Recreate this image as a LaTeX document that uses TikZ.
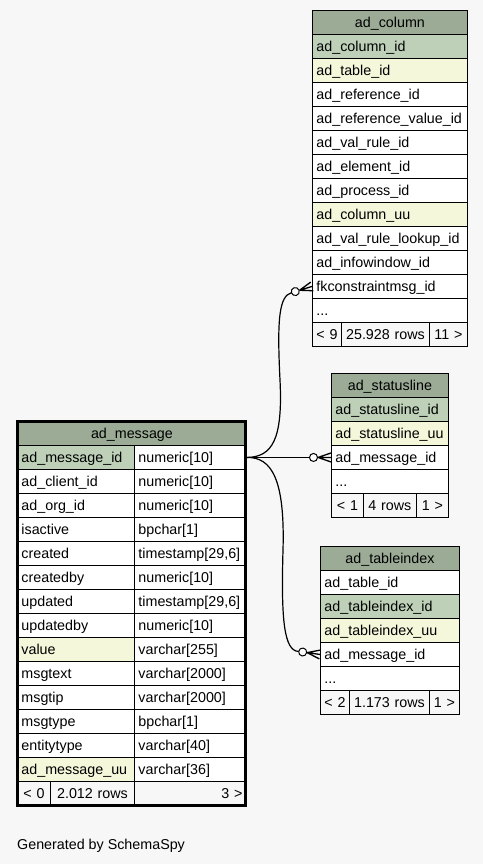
\documentclass[tikz,border=0pt]{standalone}
\usepackage{fontspec}
\setmainfont{Liberation Sans}
\definecolor{hdrgreen}{HTML}{9BAB96}
\definecolor{pkgreen}{HTML}{BED1B8}
\definecolor{idxyellow}{HTML}{F4F7DA}
\definecolor{bggray}{HTML}{F7F7F7}
\newcommand{\tdots}{...}

\begin{document}
\begin{tikzpicture}[x=1bp,y=-1bp,
  font=\fontsize{14.3bp}{16bp}\selectfont,
  cell/.style={draw=black,line width=0.9bp,anchor=north west,minimum height=24bp,
    inner xsep=4bp,inner ysep=0pt,text height=11.7bp,text depth=2.3bp,align=left,text width=#1},
  hdr/.style={cell=#1,fill=hdrgreen,align=center},
  foot/.style={cell=#1,fill=bggray,align=center,inner xsep=1bp},
  link/.style={line width=1.2bp},
  crowodot/.pic={
    \draw[line width=1.3bp] (-13,0) -- (0,-4.5) (-13,0) -- (0,0) (-13,0) -- (0,4.5);
    \draw[line width=1bp,fill=white] (-17.5,0) circle (4bp);
    \coordinate (-tail) at (-21.5,0);
  }]
\path[use as bounding box,fill=bggray] (0,0) rectangle (483,864);

% ad_column
\node[hdr=147bp] (col-h) at (312,10) {ad\_column};
\foreach \t/\f [count=\i] in {ad\_column\_id/pkgreen,ad\_table\_id/idxyellow,
  ad\_reference\_id/white,ad\_reference\_value\_id/white,ad\_val\_rule\_id/white,
  ad\_element\_id/white,ad\_process\_id/white,ad\_column\_uu/idxyellow,
  ad\_val\_rule\_lookup\_id/white,ad\_infowindow\_id/white,fkconstraintmsg\_id/white,\tdots/white}
  \node[cell=147bp,fill=\f] (col-\i) at (312,{34+24*(\i-1)}) {\t};
\node[foot=27bp] (col-f1) at (312,322) {< 9};
\node[foot=86bp] (col-f2) at (341,322) {25.928 rows};
\node[foot=36bp] (col-f3) at (429,322) {11 >};

% ad_statusline
\node[hdr=109bp] (stat-h) at (331,373) {ad\_statusline};
\foreach \t/\f [count=\i] in {ad\_statusline\_id/pkgreen,ad\_statusline\_uu/idxyellow,
  ad\_message\_id/white,\tdots/white}
  \node[cell=109bp,fill=\f] (stat-\i) at (331,{397+24*(\i-1)}) {\t};
\node[foot=30bp] (stat-f1) at (331,493) {< 1};
\node[foot=51bp] (stat-f2) at (363,493) {4 rows};
\node[foot=30bp] (stat-f3) at (416,493) {1 >};

% ad_tableindex
\node[hdr=131bp] (tix-h) at (320,546) {ad\_tableindex};
\foreach \t/\f [count=\i] in {ad\_table\_id/white,ad\_tableindex\_id/pkgreen,
  ad\_tableindex\_uu/idxyellow,ad\_message\_id/white,\tdots/white}
  \node[cell=131bp,fill=\f] (tix-\i) at (320,{570+24*(\i-1)}) {\t};
\node[foot=27bp] (tix-f1) at (320,690) {< 2};
\node[foot=78bp] (tix-f2) at (349,690) {1.173 rows};
\node[foot=28bp] (tix-f3) at (429,690) {1 >};

% ad_message
\node[hdr=221bp] (msg-h) at (17,421) {ad\_message};
\foreach \a/\b/\f [count=\i] in {ad\_message\_id/numeric[10]/pkgreen,
  ad\_client\_id/numeric[10]/white,ad\_org\_id/numeric[10]/white,
  isactive/bpchar[1]/white,created/{timestamp[29,6]}/white,
  createdby/numeric[10]/white,updated/{timestamp[29,6]}/white,
  updatedby/numeric[10]/white,value/varchar[255]/idxyellow,
  msgtext/varchar[2000]/white,msgtip/varchar[2000]/white,
  msgtype/bpchar[1]/white,entitytype/varchar[40]/white,
  ad\_message\_uu/varchar[36]/idxyellow}
{
  \node[cell=109bp,fill=\f] (msg-\i) at (17,{445+24*(\i-1)}) {\a};
  \node[cell=104bp,fill=white] (msgt-\i) at (134,{445+24*(\i-1)}) {\b};
}
\node[foot=31bp] (msg-f1) at (17,781) {< 0};
\node[foot=82bp] (msg-f2) at (50,781) {2.012 rows};
\node[foot=104bp,align=right,inner xsep=4bp] (msg-f3) at (134,781) {3 >};
\draw[line width=3bp] (17.5,421.5) rectangle (245.5,805.5);

% relationships
\pic[rotate=17] (e-col) at (col-11.west) {crowodot};
\pic (e-stat) at (stat-3.west) {crowodot};
\pic[rotate=-8] (e-tix) at (tix-4.west) {crowodot};
\draw[link] (msgt-1.east) .. controls (272,457) and (283,440) .. (280,380)
  .. controls (277,320) and (279,296) .. (e-col-tail);
\draw[link] (msgt-1.east) -- (e-stat-tail);
\draw[link] (msgt-1.east) .. controls (272,457) and (285,480) .. (283,550)
  .. controls (281,620) and (284,651) .. (e-tix-tail);

\node[anchor=base west,inner sep=0pt] (gen) at (17,849) {Generated by SchemaSpy};
\end{tikzpicture}
\end{document}
